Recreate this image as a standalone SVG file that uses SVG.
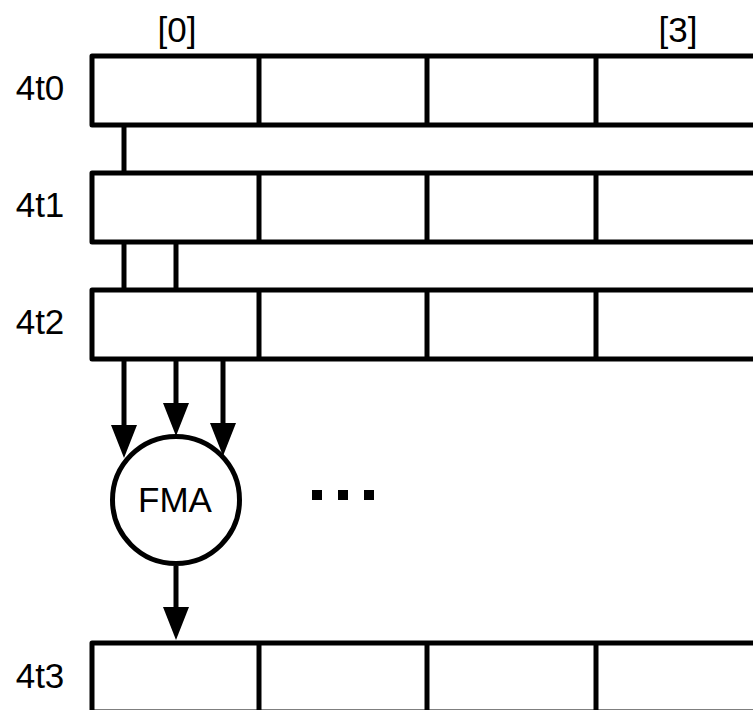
<svg xmlns="http://www.w3.org/2000/svg" width="753" height="710" viewBox="0 0 753 710">
  <style>
    .cell { fill: #ffffff; stroke: #000000; stroke-width: 5; stroke-linejoin: round; }
    .div { stroke: #000000; stroke-width: 5; }
    .wire { fill: none; stroke: #000000; stroke-width: 5; }
    .lbl { font-family: "Liberation Sans", Arial, Helvetica, sans-serif; font-size: 35px; fill: #000000; }
    .dot { fill: #000000; }
  </style>
  <defs>
    <!-- filled arrowhead; reference point at its base so the tip extends past the line end -->
    <marker id="head" markerUnits="userSpaceOnUse" markerWidth="34" markerHeight="28" refX="0" refY="13" orient="auto" overflow="visible">
      <path d="M0,0 L33,13 L0,26 Z" fill="#000000"/>
    </marker>
    <!-- one vector register: four lanes -->
    <g id="reg">
      <rect class="cell" x="92" y="0" width="670" height="69"/>
      <line class="div" x1="259" y1="0" x2="259" y2="69"/>
      <line class="div" x1="427" y1="0" x2="427" y2="69"/>
      <line class="div" x1="596" y1="0" x2="596" y2="69"/>
    </g>
  </defs>

  <!-- lane indices -->
  <g id="idx">
    <text class="lbl" x="177" y="42" text-anchor="middle" font-size="34">[0]</text>
    <text class="lbl" x="678" y="42" text-anchor="middle" font-size="34">[3]</text>
  </g>

  <!-- connectors -->
  <g id="connectors">
    <line class="wire" x1="124" y1="125" x2="124" y2="173"/>
    <line class="wire" x1="124" y1="242" x2="124" y2="290"/>
    <line class="wire" x1="176" y1="242" x2="176" y2="290"/>
    <line class="wire" x1="124" y1="359" x2="124" y2="425" marker-end="url(#head)"/>
    <line class="wire" x1="176" y1="359" x2="176" y2="403" marker-end="url(#head)"/>
    <line class="wire" x1="223" y1="359" x2="223" y2="423" marker-end="url(#head)"/>
    <line class="wire" x1="176" y1="566" x2="176" y2="607" marker-end="url(#head)"/>
  </g>

  <g id="r4t0">
    <use href="#reg" y="56"/>
    <text class="lbl" x="40" y="100" text-anchor="middle">4t0</text>
  </g>
  <g id="r4t1">
    <use href="#reg" y="173"/>
    <text class="lbl" x="40" y="217" text-anchor="middle">4t1</text>
  </g>
  <g id="r4t2">
    <use href="#reg" y="290"/>
    <text class="lbl" x="40" y="334" text-anchor="middle">4t2</text>
  </g>

  <g id="fma">
    <circle cx="176" cy="500" r="63.5" fill="#ffffff" stroke="#000000" stroke-width="5"/>
    <text class="lbl" x="175" y="512" text-anchor="middle" font-size="31">FMA</text>
  </g>

  <g id="ellipsis">
    <rect class="dot" x="312" y="490" width="10" height="10"/>
    <rect class="dot" x="338" y="490" width="10" height="10"/>
    <rect class="dot" x="364" y="490" width="10" height="10"/>
  </g>

  <g id="r4t3">
    <use href="#reg" y="643"/>
    <text class="lbl" x="40" y="688" text-anchor="middle">4t3</text>
  </g>
</svg>
